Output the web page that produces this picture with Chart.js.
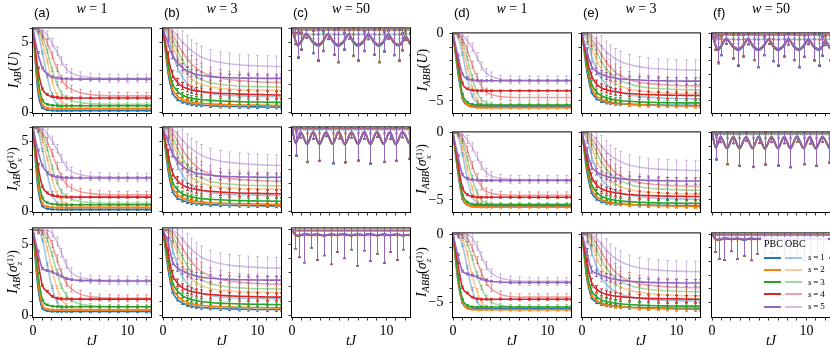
<!DOCTYPE html>
<html>
<head>
<meta charset="utf-8">
<script src="https://cdn.jsdelivr.net/npm/chart.js@4.4.1/dist/chart.umd.min.js"></script>
<style>
  body { margin: 0; width: 830px; height: 349px; overflow: hidden; background: #fff; position: relative; font-family: 'Liberation Serif', serif; }
  canvas { position: absolute; }
  .txt { position: absolute; white-space: nowrap; color: #000; line-height: 1; }
  .tag { font-family: 'Liberation Sans', sans-serif; font-size: 13px; }
  .ttl { font-size: 14px; transform: translateX(-50%); }
  .ylab { font-size: 14px; transform: translate(-50%, -50%) rotate(-90deg); }
  .ylab sub { font-size: 10px; vertical-align: -3px; }
  .ss { display: inline-block; font-size: 9px; line-height: 9px; vertical-align: -5px; }
  .ss span { display: block; }
  .xlab { font-size: 14px; transform: translate(-50%, -50%); }
  .lgt { font-size: 10px; }
  .lgs { font-size: 9px; letter-spacing: -0.2px; }
  #legend { position: absolute; left: 761px; top: 237px; width: 67px; height: 78px; background: rgba(255,255,255,0.88); }
  .lg { position: absolute; height: 2px; }
</style>
</head>
<body>
<script>
// --- DADOS ---
const tDecay = [0, 0.5, 1, 1.5, 2, 2.5, 3, 3.5, 4, 5, 6, 7, 8, 9, 10, 11, 12, 12.5];
const tW1 = [0, 0.3, 0.6, 1.0, 1.5, 2.2, 2.8, 3.3, 3.8, 4.4, 4.9, 5.5, 6.0, 6.5, 7.0, 7.6, 8.1, 8.7, 9.2, 9.7, 10.2, 10.8, 11.3, 11.7, 12.0, 12.5];
const tW2 = [0, 0.4, 0.9, 1.6, 2.25, 2.9, 3.6, 4.3, 4.95, 5.6, 6.3, 7.0, 7.65, 8.3, 9.0, 9.7, 10.35, 11.0, 11.7, 12.4];
const tW3 = [0, 0.3, 0.7, 1.3, 2.0, 2.7, 3.4, 4.1, 4.8, 5.5, 6.2, 6.9, 7.6, 8.3, 9.0, 9.7, 10.4, 11.1, 11.8, 12.5];

const xTicks = [0, 1, 2, 3, 4, 5, 6, 7, 8, 9, 10, 11, 12];
const xLabels = [0, 10];
const yTicksLeft = [0, 1, 2, 3, 4, 5, 6];
const yTicksRight = [-5, -4, -3, -2, -1, 0];
const yLabels = [0, 5, -5];
const seriesNames = ['s = 1', 's = 2', 's = 3', 's = 4', 's = 5'];
const panelTags = ['(a)', '(b)', '(c)', '(d)', '(e)', '(f)'];
const wValues = ['1', '3', '50', '1', '3', '50'];

// w = 1, esquerda
const pbc_aU = [
  [6.0,1.6,0.35,0.2,0.16,0.15,0.15,0.15,0.15,0.15,0.15,0.15,0.15,0.15,0.15,0.15,0.15,0.15],
  [6.0,2.0,0.55,0.35,0.3,0.29,0.28,0.28,0.28,0.28,0.28,0.28,0.28,0.28,0.28,0.28,0.28,0.28],
  [6.0,2.5,0.9,0.6,0.53,0.51,0.5,0.5,0.5,0.5,0.5,0.5,0.5,0.5,0.5,0.5,0.5,0.5],
  [6.0,3.2,1.7,1.3,1.15,1.09,1.06,1.05,1.05,1.05,1.05,1.05,1.05,1.05,1.05,1.05,1.05,1.05],
  [6.0,4.3,3.2,2.75,2.56,2.48,2.44,2.42,2.41,2.4,2.4,2.4,2.4,2.4,2.4,2.4,2.4,2.4]
];
const obc_aU = [
  [6.0,5.7,4.3,2.6,1.3,0.6,0.35,0.26,0.22,0.2,0.19,0.19,0.19,0.19,0.19,0.19,0.19,0.19],
  [6.0,5.9,5.0,3.7,2.3,1.3,0.8,0.55,0.45,0.38,0.36,0.35,0.35,0.35,0.35,0.35,0.35,0.35],
  [6.0,5.95,5.4,4.4,3.1,2.1,1.4,1.1,0.9,0.72,0.65,0.62,0.61,0.6,0.6,0.6,0.6,0.6],
  [6.0,6.0,5.6,5.0,4.1,3.2,2.4,1.95,1.7,1.42,1.3,1.24,1.21,1.2,1.2,1.2,1.2,1.2],
  [6.0,6.0,5.85,5.55,5.0,4.4,3.7,3.15,2.85,2.62,2.52,2.48,2.46,2.45,2.45,2.45,2.45,2.45]
];
const pbc_aX = [
  [6.0,1.8,0.4,0.22,0.17,0.16,0.15,0.15,0.15,0.15,0.15,0.15,0.15,0.15,0.15,0.15,0.15,0.15],
  [6.0,2.2,0.6,0.38,0.32,0.3,0.3,0.3,0.3,0.3,0.3,0.3,0.3,0.3,0.3,0.3,0.3,0.3],
  [6.0,2.7,1.0,0.65,0.55,0.52,0.51,0.5,0.5,0.5,0.5,0.5,0.5,0.5,0.5,0.5,0.5,0.5],
  [6.0,3.4,1.8,1.35,1.17,1.1,1.06,1.05,1.05,1.04,1.04,1.04,1.04,1.04,1.04,1.04,1.04,1.04],
  [6.0,4.4,3.3,2.8,2.58,2.49,2.45,2.43,2.42,2.41,2.41,2.41,2.41,2.41,2.41,2.41,2.41,2.41]
];
const obc_aX = [
  [6.0,5.75,4.4,2.7,1.35,0.62,0.36,0.27,0.22,0.2,0.19,0.19,0.19,0.19,0.19,0.19,0.19,0.19],
  [6.0,5.9,5.05,3.8,2.4,1.35,0.82,0.56,0.46,0.39,0.36,0.35,0.35,0.35,0.35,0.35,0.35,0.35],
  [6.0,5.95,5.45,4.5,3.2,2.15,1.45,1.12,0.92,0.73,0.66,0.62,0.61,0.6,0.6,0.6,0.6,0.6],
  [6.0,6.0,5.65,5.05,4.2,3.3,2.5,2.0,1.72,1.43,1.31,1.25,1.22,1.21,1.2,1.2,1.2,1.2],
  [6.0,6.0,5.9,5.6,5.1,4.5,3.8,3.25,2.9,2.64,2.53,2.49,2.47,2.46,2.45,2.45,2.45,2.45]
];
const pbc_aZ = [
  [6.0,2.1,0.5,0.32,0.29,0.28,0.28,0.28,0.28,0.28,0.28,0.28,0.28,0.28,0.28,0.28,0.28,0.28],
  [6.0,2.5,0.7,0.45,0.41,0.4,0.4,0.4,0.4,0.4,0.4,0.4,0.4,0.4,0.4,0.4,0.4,0.4],
  [6.0,3.0,1.1,0.75,0.66,0.63,0.62,0.62,0.62,0.62,0.62,0.62,0.62,0.62,0.62,0.62,0.62,0.62],
  [6.0,3.9,2.1,1.7,1.35,1.22,1.17,1.16,1.15,1.15,1.15,1.15,1.15,1.15,1.15,1.15,1.15,1.15],
  [6.0,4.5,3.3,3.15,3.05,2.9,2.75,2.6,2.52,2.46,2.44,2.43,2.42,2.42,2.42,2.42,2.42,2.42]
];
const obc_aZ = [
  [6.0,5.9,5.3,3.6,2.0,1.0,0.55,0.38,0.32,0.29,0.28,0.28,0.28,0.28,0.28,0.28,0.28,0.28],
  [6.0,6.0,5.7,4.7,3.3,2.0,1.15,0.75,0.56,0.45,0.42,0.41,0.4,0.4,0.4,0.4,0.4,0.4],
  [6.0,6.0,5.85,5.3,4.3,3.1,2.05,1.45,1.1,0.8,0.7,0.65,0.63,0.62,0.62,0.62,0.62,0.62],
  [6.0,6.0,5.95,5.7,5.0,4.0,3.0,2.3,1.9,1.5,1.33,1.26,1.22,1.2,1.2,1.2,1.2,1.2],
  [6.0,6.0,6.0,5.95,5.8,5.2,4.4,3.6,3.05,2.68,2.54,2.49,2.47,2.46,2.45,2.45,2.45,2.45]
];

// w = 3, esquerda
const pbc_bU = [
  [6.0,3.0,1.45,0.98,0.8,0.7,0.63,0.58,0.55,0.5,0.47,0.45,0.44,0.43,0.42,0.41,0.4,0.4],
  [6.0,3.3,1.75,1.2,0.98,0.86,0.78,0.72,0.68,0.63,0.6,0.58,0.56,0.55,0.54,0.53,0.52,0.52],
  [6.0,3.6,2.1,1.55,1.28,1.13,1.04,0.98,0.94,0.88,0.84,0.81,0.79,0.77,0.76,0.75,0.74,0.74],
  [6.0,4.1,2.75,2.2,1.9,1.74,1.63,1.56,1.51,1.44,1.39,1.36,1.33,1.31,1.3,1.28,1.27,1.27],
  [6.0,5.0,4.1,3.6,3.25,3.0,2.85,2.75,2.68,2.58,2.53,2.5,2.48,2.47,2.46,2.45,2.45,2.45]
];
const obc_bU = [
  [6.0,5.6,4.3,3.3,2.6,2.15,1.85,1.65,1.52,1.37,1.28,1.23,1.2,1.18,1.17,1.16,1.15,1.15],
  [6.0,5.8,4.9,4.0,3.3,2.8,2.45,2.2,2.05,1.85,1.75,1.69,1.65,1.63,1.62,1.61,1.6,1.6],
  [6.0,5.9,5.3,4.5,3.8,3.25,2.85,2.58,2.38,2.15,2.03,1.96,1.91,1.88,1.86,1.85,1.84,1.83],
  [6.0,6.0,5.6,5.0,4.4,3.9,3.5,3.2,2.95,2.65,2.48,2.37,2.3,2.25,2.21,2.18,2.16,2.15],
  [6.0,6.0,5.85,5.5,5.1,4.75,4.45,4.2,4.0,3.75,3.6,3.5,3.43,3.38,3.35,3.32,3.3,3.3]
];
const pbc_bX = [
  [6.0,3.1,1.5,1.0,0.82,0.71,0.64,0.59,0.56,0.51,0.48,0.46,0.45,0.44,0.43,0.42,0.41,0.41],
  [6.0,3.4,1.8,1.25,1.0,0.88,0.8,0.74,0.7,0.64,0.61,0.59,0.57,0.56,0.55,0.54,0.53,0.53],
  [6.0,3.7,2.15,1.6,1.3,1.15,1.06,1.0,0.95,0.89,0.85,0.82,0.8,0.78,0.77,0.76,0.75,0.75],
  [6.0,4.2,2.8,2.25,1.94,1.77,1.66,1.58,1.53,1.46,1.41,1.37,1.34,1.32,1.31,1.29,1.28,1.28],
  [6.0,5.05,4.15,3.65,3.3,3.05,2.88,2.77,2.7,2.6,2.54,2.51,2.49,2.48,2.47,2.46,2.46,2.46]
];
const obc_bX = [
  [6.0,5.65,4.4,3.4,2.7,2.2,1.9,1.68,1.54,1.38,1.29,1.24,1.21,1.19,1.18,1.17,1.16,1.16],
  [6.0,5.85,5.0,4.1,3.4,2.9,2.5,2.25,2.08,1.87,1.76,1.7,1.66,1.64,1.63,1.62,1.61,1.61],
  [6.0,5.92,5.35,4.6,3.9,3.35,2.92,2.62,2.42,2.18,2.05,1.97,1.92,1.89,1.87,1.86,1.85,1.84],
  [6.0,6.0,5.65,5.1,4.5,4.0,3.58,3.25,3.0,2.68,2.5,2.38,2.31,2.26,2.22,2.19,2.17,2.16],
  [6.0,6.0,5.88,5.55,5.15,4.8,4.5,4.25,4.05,3.78,3.62,3.52,3.45,3.4,3.36,3.33,3.31,3.3]
];
const pbc_bZ = [
  [6.0,3.4,1.7,1.15,0.9,0.76,0.67,0.61,0.57,0.52,0.49,0.47,0.45,0.44,0.43,0.42,0.42,0.42],
  [6.0,3.7,2.0,1.4,1.1,0.94,0.84,0.77,0.72,0.66,0.62,0.6,0.58,0.57,0.56,0.55,0.54,0.54],
  [6.0,4.0,2.35,1.75,1.42,1.24,1.12,1.04,0.99,0.92,0.87,0.84,0.82,0.8,0.79,0.78,0.77,0.77],
  [6.0,4.5,2.9,2.3,1.98,1.8,1.69,1.61,1.55,1.47,1.42,1.38,1.35,1.33,1.32,1.3,1.29,1.29],
  [6.0,5.2,3.8,3.35,3.15,2.98,2.86,2.77,2.7,2.61,2.56,2.53,2.51,2.5,2.49,2.48,2.48,2.48]
];
const obc_bZ = [
  [6.0,5.8,4.7,3.6,2.8,2.3,1.95,1.72,1.57,1.4,1.3,1.25,1.22,1.2,1.19,1.18,1.17,1.17],
  [6.0,5.95,5.3,4.4,3.6,3.0,2.6,2.32,2.13,1.9,1.78,1.71,1.67,1.65,1.64,1.63,1.62,1.62],
  [6.0,6.0,5.6,4.9,4.15,3.55,3.08,2.75,2.52,2.24,2.09,2.0,1.94,1.9,1.88,1.87,1.86,1.85],
  [6.0,6.0,5.85,5.4,4.8,4.25,3.78,3.4,3.12,2.76,2.55,2.42,2.34,2.28,2.24,2.21,2.19,2.18],
  [6.0,6.0,5.95,5.75,5.4,5.0,4.65,4.35,4.12,3.82,3.64,3.53,3.46,3.41,3.37,3.34,3.32,3.31]
];

// w = 50, esquerda
const pbc_cU = [
  [6.0,5.25,4.78,5.05,5.6,5.0,4.76,5.05,5.56,4.98,4.75,5.05,5.55,5.0,4.76,5.05,5.55,4.98,4.75,5.02,5.52,4.96,4.76,5.0,5.45,4.86],
  [6.0,5.28,4.84,5.1,5.62,5.05,4.82,5.1,5.59,5.03,4.81,5.1,5.57,5.05,4.82,5.1,5.57,5.03,4.81,5.07,5.55,5.01,4.82,5.05,5.47,4.9],
  [6.0,5.29,4.86,5.12,5.63,5.07,4.84,5.12,5.6,5.05,4.83,5.12,5.58,5.07,4.84,5.12,5.58,5.05,4.83,5.09,5.56,5.03,4.84,5.07,5.48,4.92],
  [6.0,5.3,4.88,5.14,5.64,5.09,4.86,5.14,5.61,5.07,4.85,5.14,5.59,5.09,4.86,5.14,5.59,5.07,4.85,5.11,5.57,5.05,4.86,5.09,5.49,4.94],
  [6.0,5.3,4.9,5.15,5.65,5.1,4.88,5.15,5.62,5.08,4.86,5.15,5.6,5.1,4.87,5.15,5.6,5.08,4.86,5.12,5.58,5.06,4.87,5.1,5.5,4.95]
];
const obc_cU = [
  [6.0,5.8,5.65,5.6,5.62,5.6,5.58,5.6,5.62,5.6,5.58,5.6,5.62,5.6,5.58,5.6,5.62,5.6,5.58,5.6,5.62,5.6,5.58,5.6,5.62,5.6],
  [6.0,5.98,5.96,5.95,5.96,5.95,5.95,5.95,5.96,5.95,5.95,5.95,5.96,5.95,5.95,5.95,5.96,5.95,5.95,5.95,5.96,5.95,5.95,5.95,5.96,5.95],
  [6.0,5.95,5.9,5.88,5.9,5.88,5.87,5.88,5.9,5.88,5.87,5.88,5.9,5.88,5.87,5.88,5.9,5.88,5.87,5.88,5.9,5.88,5.87,5.88,5.9,5.88],
  [6.0,5.96,5.92,5.9,5.92,5.9,5.89,5.9,5.92,5.9,5.89,5.9,5.92,5.9,5.89,5.9,5.92,5.9,5.89,5.9,5.92,5.9,5.89,5.9,5.92,5.9],
  [6.0,5.98,5.97,5.97,5.98,5.97,5.97,5.97,5.98,5.97,5.97,5.97,5.98,5.97,5.97,5.97,5.98,5.97,5.97,5.97,5.98,5.97,5.97,5.97,5.98,5.97]
];
const errW_cU = [0,0.4,0.9,0.6,0.3,0.8,1.1,0.7,0.35,0.9,1.2,0.6,0.3,1.0,1.1,0.7,0.35,0.9,1.2,0.7,0.3,0.9,1.1,0.6,0.3,0.8];
const pbc_cX = [
  [6.0,4.85,5.65,4.8,5.67,4.78,5.65,4.8,5.69,4.77,5.65,4.8,5.67,4.78,5.69,4.8,5.65,4.78,5.67,4.82],
  [6.0,4.9,5.67,4.85,5.69,4.83,5.67,4.85,5.71,4.82,5.67,4.85,5.69,4.83,5.71,4.85,5.67,4.83,5.69,4.87],
  [6.0,4.91,5.68,4.86,5.7,4.84,5.68,4.86,5.72,4.83,5.68,4.86,5.7,4.84,5.72,4.86,5.68,4.84,5.7,4.88],
  [6.0,4.93,5.69,4.88,5.71,4.86,5.69,4.88,5.73,4.85,5.69,4.88,5.71,4.86,5.73,4.88,5.69,4.86,5.71,4.9],
  [6.0,4.95,5.7,4.9,5.72,4.88,5.7,4.9,5.74,4.87,5.7,4.9,5.72,4.88,5.74,4.9,5.7,4.88,5.72,4.92]
];
const obc_cX = [
  [6.0,5.85,5.88,5.84,5.88,5.84,5.88,5.84,5.88,5.84,5.88,5.84,5.88,5.84,5.88,5.84,5.88,5.84,5.88,5.84],
  [6.0,5.95,5.96,5.95,5.96,5.95,5.96,5.95,5.96,5.95,5.96,5.95,5.96,5.95,5.96,5.95,5.96,5.95,5.96,5.95],
  [6.0,5.92,5.93,5.92,5.93,5.92,5.93,5.92,5.93,5.92,5.93,5.92,5.93,5.92,5.93,5.92,5.93,5.92,5.93,5.92],
  [6.0,5.93,5.94,5.93,5.94,5.93,5.94,5.93,5.94,5.93,5.94,5.93,5.94,5.93,5.94,5.93,5.94,5.93,5.94,5.93],
  [6.0,5.96,5.97,5.96,5.97,5.96,5.97,5.96,5.97,5.96,5.97,5.96,5.97,5.96,5.97,5.96,5.97,5.96,5.97,5.96]
];
const errW_cX = [0,0.9,0.4,1.3,0.5,1.2,0.3,1.4,0.5,1.3,0.4,1.2,0.5,1.4,0.4,1.3,0.5,1.2,0.4,1.1];
const pbc_cZ = [
  [6.0,5.66,5.55,5.68,5.62,5.66,5.58,5.66,5.62,5.68,5.59,5.66,5.62,5.68,5.6,5.66,5.61,5.66,5.59,5.64],
  [6.0,5.68,5.58,5.69,5.64,5.68,5.6,5.68,5.63,5.69,5.61,5.68,5.64,5.69,5.62,5.68,5.63,5.68,5.61,5.66],
  [6.0,5.68,5.58,5.7,5.64,5.68,5.6,5.68,5.64,5.7,5.61,5.68,5.64,5.7,5.62,5.68,5.63,5.68,5.61,5.66],
  [6.0,5.69,5.59,5.71,5.65,5.69,5.61,5.69,5.65,5.71,5.62,5.69,5.65,5.71,5.63,5.69,5.64,5.69,5.62,5.67],
  [6.0,5.7,5.6,5.72,5.66,5.7,5.62,5.7,5.66,5.72,5.63,5.7,5.66,5.72,5.64,5.7,5.65,5.7,5.63,5.68]
];
const obc_cZ = [
  [6.0,5.93,5.9,5.91,5.9,5.91,5.9,5.91,5.9,5.91,5.9,5.91,5.9,5.91,5.9,5.91,5.9,5.91,5.9,5.91],
  [6.0,5.97,5.97,5.97,5.97,5.97,5.97,5.97,5.97,5.97,5.97,5.97,5.97,5.97,5.97,5.97,5.97,5.97,5.97,5.97],
  [6.0,5.95,5.95,5.95,5.95,5.95,5.95,5.95,5.95,5.95,5.95,5.95,5.95,5.95,5.95,5.95,5.95,5.95,5.95,5.95],
  [6.0,5.96,5.95,5.96,5.95,5.96,5.95,5.96,5.95,5.96,5.95,5.96,5.95,5.96,5.95,5.96,5.95,5.96,5.95,5.96],
  [6.0,5.98,5.98,5.98,5.98,5.98,5.98,5.98,5.98,5.98,5.98,5.98,5.98,5.98,5.98,5.98,5.98,5.98,5.98,5.98]
];
const errW_cZ = [0,1.0,1.5,2.0,0.9,1.8,1.4,2.1,1.2,1.7,1.0,2.2,1.1,1.9,1.3,2.0,1.2,1.8,1.0,1.6];

// w = 1, direita
const pbc_dU = [
  [0,-2.8,-4.8,-5.3,-5.38,-5.4,-5.4,-5.4,-5.4,-5.4,-5.4,-5.4,-5.4,-5.4,-5.4,-5.4,-5.4,-5.4],
  [0,-2.6,-4.7,-5.3,-5.45,-5.49,-5.5,-5.5,-5.5,-5.5,-5.5,-5.5,-5.5,-5.5,-5.5,-5.5,-5.5,-5.5],
  [0,-2.4,-4.5,-5.1,-5.25,-5.29,-5.3,-5.3,-5.3,-5.3,-5.3,-5.3,-5.3,-5.3,-5.3,-5.3,-5.3,-5.3],
  [0,-2.0,-3.7,-4.1,-4.2,-4.24,-4.25,-4.25,-4.25,-4.25,-4.25,-4.25,-4.25,-4.25,-4.25,-4.25,-4.25,-4.25],
  [0,-1.6,-3.0,-3.35,-3.45,-3.48,-3.5,-3.5,-3.5,-3.5,-3.5,-3.5,-3.5,-3.5,-3.5,-3.5,-3.5,-3.5]
];
const obc_dU = [
  [0,-0.2,-1.5,-3.3,-4.6,-5.1,-5.3,-5.37,-5.4,-5.4,-5.4,-5.4,-5.4,-5.4,-5.4,-5.4,-5.4,-5.4],
  [0,-0.1,-1.0,-2.5,-4.0,-4.9,-5.3,-5.44,-5.48,-5.5,-5.5,-5.5,-5.5,-5.5,-5.5,-5.5,-5.5,-5.5],
  [0,-0.05,-0.6,-1.8,-3.2,-4.3,-4.9,-5.15,-5.25,-5.29,-5.3,-5.3,-5.3,-5.3,-5.3,-5.3,-5.3,-5.3],
  [0,0,-0.4,-1.2,-2.3,-3.2,-3.9,-4.3,-4.5,-4.68,-4.73,-4.75,-4.75,-4.75,-4.75,-4.75,-4.75,-4.75],
  [0,0,-0.15,-0.5,-1.0,-1.7,-2.4,-2.9,-3.15,-3.37,-3.43,-3.45,-3.45,-3.45,-3.45,-3.45,-3.45,-3.45]
];
const pbc_dX = [
  [0,-2.9,-4.9,-5.35,-5.42,-5.44,-5.45,-5.45,-5.45,-5.45,-5.45,-5.45,-5.45,-5.45,-5.45,-5.45,-5.45,-5.45],
  [0,-2.7,-4.8,-5.35,-5.5,-5.54,-5.55,-5.55,-5.55,-5.55,-5.55,-5.55,-5.55,-5.55,-5.55,-5.55,-5.55,-5.55],
  [0,-2.5,-4.6,-5.15,-5.3,-5.34,-5.35,-5.35,-5.35,-5.35,-5.35,-5.35,-5.35,-5.35,-5.35,-5.35,-5.35,-5.35],
  [0,-2.2,-4.1,-4.6,-4.75,-4.79,-4.8,-4.8,-4.8,-4.8,-4.8,-4.8,-4.8,-4.8,-4.8,-4.8,-4.8,-4.8],
  [0,-1.7,-3.1,-3.42,-3.5,-3.53,-3.55,-3.55,-3.55,-3.55,-3.55,-3.55,-3.55,-3.55,-3.55,-3.55,-3.55,-3.55]
];
const obc_dX = [
  [0,-0.2,-1.6,-3.4,-4.7,-5.2,-5.37,-5.42,-5.45,-5.45,-5.45,-5.45,-5.45,-5.45,-5.45,-5.45,-5.45,-5.45],
  [0,-0.1,-1.1,-2.6,-4.1,-5.0,-5.35,-5.48,-5.53,-5.55,-5.55,-5.55,-5.55,-5.55,-5.55,-5.55,-5.55,-5.55],
  [0,-0.05,-0.65,-1.9,-3.3,-4.4,-5.0,-5.22,-5.3,-5.34,-5.35,-5.35,-5.35,-5.35,-5.35,-5.35,-5.35,-5.35],
  [0,0,-0.4,-1.25,-2.4,-3.3,-4.0,-4.35,-4.5,-4.62,-4.65,-4.65,-4.65,-4.65,-4.65,-4.65,-4.65,-4.65],
  [0,0,-0.15,-0.5,-1.05,-1.75,-2.45,-2.95,-3.2,-3.4,-3.46,-3.48,-3.48,-3.48,-3.48,-3.48,-3.48,-3.48]
];
const pbc_dZ = [
  [0,-3.3,-5.0,-5.38,-5.44,-5.45,-5.45,-5.45,-5.45,-5.45,-5.45,-5.45,-5.45,-5.45,-5.45,-5.45,-5.45,-5.45],
  [0,-3.1,-4.95,-5.42,-5.5,-5.52,-5.52,-5.52,-5.52,-5.52,-5.52,-5.52,-5.52,-5.52,-5.52,-5.52,-5.52,-5.52],
  [0,-2.9,-4.75,-5.2,-5.3,-5.32,-5.32,-5.32,-5.32,-5.32,-5.32,-5.32,-5.32,-5.32,-5.32,-5.32,-5.32,-5.32],
  [0,-2.1,-3.9,-4.3,-4.6,-4.72,-4.75,-4.75,-4.75,-4.75,-4.75,-4.75,-4.75,-4.75,-4.75,-4.75,-4.75,-4.75],
  [0,-1.5,-2.7,-2.9,-3.0,-3.12,-3.27,-3.38,-3.44,-3.5,-3.52,-3.53,-3.53,-3.53,-3.53,-3.53,-3.53,-3.53]
];
const obc_dZ = [
  [0,-0.1,-0.8,-2.4,-4.0,-4.9,-5.3,-5.42,-5.45,-5.45,-5.45,-5.45,-5.45,-5.45,-5.45,-5.45,-5.45,-5.45],
  [0,0,-0.35,-1.4,-2.9,-4.1,-4.9,-5.3,-5.45,-5.5,-5.52,-5.52,-5.52,-5.52,-5.52,-5.52,-5.52,-5.52],
  [0,0,-0.15,-0.7,-1.7,-2.9,-3.9,-4.6,-4.95,-5.2,-5.28,-5.3,-5.3,-5.3,-5.3,-5.3,-5.3,-5.3],
  [0,0,-0.05,-0.3,-1.0,-1.9,-2.8,-3.5,-3.95,-4.4,-4.55,-4.6,-4.6,-4.6,-4.6,-4.6,-4.6,-4.6],
  [0,0,0,-0.05,-0.25,-0.85,-1.6,-2.3,-2.8,-3.2,-3.35,-3.42,-3.45,-3.45,-3.45,-3.45,-3.45,-3.45]
];

// w = 3, direita
const pbc_eU = [
  [0,-2.7,-4.3,-4.8,-5.0,-5.1,-5.15,-5.2,-5.22,-5.26,-5.28,-5.3,-5.31,-5.32,-5.33,-5.33,-5.34,-5.34],
  [0,-2.4,-4.0,-4.6,-4.85,-5.0,-5.08,-5.14,-5.18,-5.24,-5.28,-5.31,-5.33,-5.35,-5.36,-5.37,-5.38,-5.38],
  [0,-2.2,-3.7,-4.3,-4.6,-4.75,-4.85,-4.92,-4.97,-5.03,-5.07,-5.1,-5.12,-5.13,-5.14,-5.15,-5.15,-5.15],
  [0,-1.8,-3.1,-3.7,-4.0,-4.15,-4.25,-4.32,-4.37,-4.45,-4.5,-4.53,-4.55,-4.57,-4.58,-4.59,-4.6,-4.6],
  [0,-1.3,-2.4,-2.8,-3.0,-3.15,-3.24,-3.3,-3.35,-3.41,-3.45,-3.48,-3.5,-3.51,-3.52,-3.53,-3.53,-3.53]
];
const obc_eU = [
  [0,-0.4,-1.6,-2.6,-3.3,-3.7,-4.0,-4.2,-4.35,-4.55,-4.65,-4.72,-4.77,-4.8,-4.82,-4.84,-4.85,-4.85],
  [0,-0.2,-1.0,-1.9,-2.6,-3.1,-3.45,-3.7,-3.88,-4.12,-4.25,-4.33,-4.38,-4.42,-4.44,-4.46,-4.47,-4.47],
  [0,-0.1,-0.6,-1.3,-2.0,-2.55,-2.95,-3.25,-3.45,-3.75,-3.92,-4.02,-4.08,-4.12,-4.15,-4.17,-4.18,-4.18],
  [0,0,-0.35,-0.9,-1.5,-2.05,-2.5,-2.85,-3.1,-3.42,-3.6,-3.7,-3.77,-3.82,-3.85,-3.87,-3.88,-3.88],
  [0,0,-0.15,-0.5,-0.9,-1.3,-1.6,-1.85,-2.05,-2.3,-2.45,-2.55,-2.61,-2.65,-2.68,-2.7,-2.71,-2.72]
];
const pbc_eX = [
  [0,-2.8,-4.4,-4.9,-5.1,-5.2,-5.25,-5.29,-5.31,-5.35,-5.37,-5.39,-5.4,-5.41,-5.42,-5.42,-5.43,-5.43],
  [0,-2.5,-4.1,-4.7,-4.95,-5.1,-5.18,-5.24,-5.28,-5.34,-5.38,-5.41,-5.43,-5.45,-5.46,-5.47,-5.48,-5.48],
  [0,-2.3,-3.8,-4.4,-4.7,-4.85,-4.95,-5.02,-5.07,-5.13,-5.17,-5.2,-5.22,-5.23,-5.24,-5.25,-5.25,-5.25],
  [0,-1.9,-3.25,-3.85,-4.15,-4.3,-4.4,-4.47,-4.52,-4.6,-4.65,-4.68,-4.7,-4.72,-4.73,-4.74,-4.75,-4.75],
  [0,-1.35,-2.5,-2.9,-3.1,-3.24,-3.32,-3.38,-3.42,-3.48,-3.52,-3.55,-3.57,-3.58,-3.59,-3.6,-3.6,-3.6]
];
const obc_eX = [
  [0,-0.4,-1.7,-2.7,-3.4,-3.8,-4.1,-4.3,-4.45,-4.65,-4.75,-4.82,-4.87,-4.9,-4.92,-4.94,-4.95,-4.95],
  [0,-0.2,-1.05,-2.0,-2.7,-3.2,-3.55,-3.8,-3.98,-4.22,-4.35,-4.43,-4.48,-4.52,-4.54,-4.56,-4.57,-4.57],
  [0,-0.1,-0.65,-1.4,-2.1,-2.65,-3.05,-3.35,-3.55,-3.85,-4.02,-4.12,-4.18,-4.22,-4.25,-4.27,-4.28,-4.28],
  [0,0,-0.38,-0.95,-1.6,-2.15,-2.6,-2.95,-3.2,-3.52,-3.7,-3.8,-3.87,-3.92,-3.95,-3.97,-3.98,-3.98],
  [0,0,-0.15,-0.52,-0.95,-1.35,-1.68,-1.93,-2.13,-2.4,-2.55,-2.65,-2.71,-2.75,-2.78,-2.8,-2.81,-2.82]
];
const pbc_eZ = [
  [0,-3.2,-4.6,-4.95,-5.1,-5.18,-5.23,-5.27,-5.3,-5.34,-5.36,-5.38,-5.39,-5.4,-5.41,-5.41,-5.42,-5.42],
  [0,-3.0,-4.4,-4.8,-5.0,-5.12,-5.2,-5.25,-5.29,-5.35,-5.39,-5.42,-5.44,-5.46,-5.47,-5.48,-5.49,-5.49],
  [0,-2.7,-4.1,-4.55,-4.78,-4.9,-4.98,-5.04,-5.08,-5.14,-5.18,-5.21,-5.23,-5.24,-5.25,-5.26,-5.26,-5.26],
  [0,-2.0,-3.5,-4.0,-4.25,-4.38,-4.46,-4.52,-4.56,-4.62,-4.66,-4.69,-4.71,-4.72,-4.73,-4.74,-4.75,-4.75],
  [0,-1.3,-2.6,-2.85,-3.0,-3.12,-3.22,-3.3,-3.36,-3.44,-3.49,-3.52,-3.54,-3.55,-3.56,-3.57,-3.57,-3.57]
];
const obc_eZ = [
  [0,-0.2,-1.2,-2.3,-3.1,-3.6,-3.95,-4.18,-4.35,-4.57,-4.68,-4.75,-4.8,-4.83,-4.85,-4.87,-4.88,-4.88],
  [0,-0.08,-0.7,-1.6,-2.4,-2.95,-3.35,-3.63,-3.83,-4.1,-4.25,-4.34,-4.4,-4.44,-4.47,-4.49,-4.5,-4.5],
  [0,-0.03,-0.4,-1.05,-1.8,-2.4,-2.85,-3.18,-3.42,-3.74,-3.92,-4.03,-4.1,-4.14,-4.17,-4.19,-4.2,-4.2],
  [0,0,-0.2,-0.65,-1.25,-1.85,-2.35,-2.75,-3.03,-3.4,-3.6,-3.72,-3.8,-3.85,-3.88,-3.9,-3.91,-3.91],
  [0,0,-0.05,-0.3,-0.7,-1.1,-1.47,-1.76,-1.98,-2.27,-2.45,-2.56,-2.63,-2.67,-2.7,-2.72,-2.73,-2.74]
];

// w = 50, direita
const pbc_fU = [
  [0,-0.75,-1.25,-0.95,-0.4,-1.0,-1.24,-0.95,-0.44,-1.02,-1.25,-0.95,-0.45,-1.0,-1.24,-0.95,-0.45,-1.02,-1.25,-0.98,-0.48,-1.04,-1.24,-1.0,-0.55,-1.14],
  [0,-0.72,-1.18,-0.9,-0.38,-0.95,-1.18,-0.9,-0.41,-0.97,-1.19,-0.9,-0.43,-0.95,-1.18,-0.9,-0.43,-0.97,-1.19,-0.93,-0.45,-0.99,-1.18,-0.95,-0.53,-1.1],
  [0,-0.71,-1.15,-0.88,-0.37,-0.93,-1.16,-0.88,-0.4,-0.95,-1.17,-0.88,-0.42,-0.93,-1.16,-0.88,-0.42,-0.95,-1.17,-0.91,-0.44,-0.97,-1.16,-0.93,-0.52,-1.08],
  [0,-0.7,-1.13,-0.86,-0.36,-0.91,-1.14,-0.86,-0.39,-0.93,-1.15,-0.86,-0.41,-0.91,-1.14,-0.86,-0.41,-0.93,-1.15,-0.89,-0.43,-0.95,-1.14,-0.91,-0.51,-1.06],
  [0,-0.7,-1.1,-0.85,-0.35,-0.9,-1.12,-0.85,-0.38,-0.92,-1.14,-0.85,-0.4,-0.9,-1.13,-0.85,-0.4,-0.92,-1.14,-0.88,-0.42,-0.94,-1.13,-0.9,-0.5,-1.05]
];
const obc_fU = [
  [0,-0.25,-0.4,-0.42,-0.4,-0.42,-0.44,-0.42,-0.4,-0.42,-0.44,-0.42,-0.4,-0.42,-0.44,-0.42,-0.4,-0.42,-0.44,-0.42,-0.4,-0.42,-0.44,-0.42,-0.4,-0.42],
  [0,-0.02,-0.04,-0.05,-0.04,-0.05,-0.05,-0.05,-0.04,-0.05,-0.05,-0.05,-0.04,-0.05,-0.05,-0.05,-0.04,-0.05,-0.05,-0.05,-0.04,-0.05,-0.05,-0.05,-0.04,-0.05],
  [0,-0.05,-0.1,-0.12,-0.1,-0.12,-0.13,-0.12,-0.1,-0.12,-0.13,-0.12,-0.1,-0.12,-0.13,-0.12,-0.1,-0.12,-0.13,-0.12,-0.1,-0.12,-0.13,-0.12,-0.1,-0.12],
  [0,-0.04,-0.08,-0.1,-0.08,-0.1,-0.11,-0.1,-0.08,-0.1,-0.11,-0.1,-0.08,-0.1,-0.11,-0.1,-0.08,-0.1,-0.11,-0.1,-0.08,-0.1,-0.11,-0.1,-0.08,-0.1],
  [0,-0.02,-0.03,-0.03,-0.02,-0.03,-0.03,-0.03,-0.02,-0.03,-0.03,-0.03,-0.02,-0.03,-0.03,-0.03,-0.02,-0.03,-0.03,-0.03,-0.02,-0.03,-0.03,-0.03,-0.02,-0.03]
];
const errW_fU = [0,0.5,1.0,0.7,0.4,0.9,1.2,0.8,0.4,1.0,1.3,0.7,0.35,1.1,1.2,0.8,0.4,1.0,1.3,0.8,0.35,1.0,1.2,0.7,0.35,0.9];
const pbc_fX = [
  [0,-1.15,-0.35,-1.2,-0.33,-1.22,-0.35,-1.2,-0.31,-1.23,-0.35,-1.2,-0.33,-1.22,-0.31,-1.2,-0.35,-1.22,-0.33,-1.18],
  [0,-1.1,-0.33,-1.15,-0.31,-1.17,-0.33,-1.15,-0.29,-1.18,-0.33,-1.15,-0.31,-1.17,-0.29,-1.15,-0.33,-1.17,-0.31,-1.13],
  [0,-1.09,-0.32,-1.14,-0.3,-1.16,-0.32,-1.14,-0.28,-1.17,-0.32,-1.14,-0.3,-1.16,-0.28,-1.14,-0.32,-1.16,-0.3,-1.12],
  [0,-1.07,-0.31,-1.12,-0.29,-1.14,-0.31,-1.12,-0.27,-1.15,-0.31,-1.12,-0.29,-1.14,-0.27,-1.12,-0.31,-1.14,-0.29,-1.1],
  [0,-1.05,-0.3,-1.1,-0.28,-1.12,-0.3,-1.1,-0.26,-1.13,-0.3,-1.1,-0.28,-1.12,-0.26,-1.1,-0.3,-1.12,-0.28,-1.08]
];
const obc_fX = [
  [0,-0.15,-0.12,-0.16,-0.12,-0.16,-0.12,-0.16,-0.12,-0.16,-0.12,-0.16,-0.12,-0.16,-0.12,-0.16,-0.12,-0.16,-0.12,-0.16],
  [0,-0.04,-0.04,-0.04,-0.04,-0.04,-0.04,-0.04,-0.04,-0.04,-0.04,-0.04,-0.04,-0.04,-0.04,-0.04,-0.04,-0.04,-0.04,-0.04],
  [0,-0.08,-0.07,-0.08,-0.07,-0.08,-0.07,-0.08,-0.07,-0.08,-0.07,-0.08,-0.07,-0.08,-0.07,-0.08,-0.07,-0.08,-0.07,-0.08],
  [0,-0.07,-0.06,-0.07,-0.06,-0.07,-0.06,-0.07,-0.06,-0.07,-0.06,-0.07,-0.06,-0.07,-0.06,-0.07,-0.06,-0.07,-0.06,-0.07],
  [0,-0.03,-0.03,-0.03,-0.03,-0.03,-0.03,-0.03,-0.03,-0.03,-0.03,-0.03,-0.03,-0.03,-0.03,-0.03,-0.03,-0.03,-0.03,-0.03]
];
const errW_fX = [0,0.9,0.4,1.2,0.5,1.3,0.3,1.4,0.5,1.2,0.4,1.3,0.5,1.4,0.4,1.2,0.5,1.3,0.4,1.1];
const pbc_fZ = [
  [0,-0.34,-0.45,-0.33,-0.38,-0.35,-0.42,-0.35,-0.38,-0.33,-0.41,-0.35,-0.38,-0.33,-0.4,-0.35,-0.39,-0.35,-0.41,-0.36],
  [0,-0.32,-0.43,-0.31,-0.36,-0.33,-0.4,-0.33,-0.36,-0.31,-0.39,-0.33,-0.36,-0.31,-0.38,-0.33,-0.37,-0.33,-0.39,-0.34],
  [0,-0.32,-0.42,-0.3,-0.36,-0.32,-0.4,-0.32,-0.36,-0.3,-0.39,-0.32,-0.36,-0.3,-0.38,-0.32,-0.37,-0.32,-0.39,-0.34],
  [0,-0.31,-0.41,-0.29,-0.35,-0.31,-0.39,-0.31,-0.35,-0.29,-0.38,-0.31,-0.35,-0.29,-0.37,-0.31,-0.36,-0.31,-0.38,-0.33],
  [0,-0.3,-0.4,-0.28,-0.34,-0.3,-0.38,-0.3,-0.34,-0.28,-0.37,-0.3,-0.34,-0.28,-0.36,-0.3,-0.35,-0.3,-0.37,-0.32]
];
const obc_fZ = [
  [0,-0.08,-0.1,-0.09,-0.1,-0.09,-0.1,-0.09,-0.1,-0.09,-0.1,-0.09,-0.1,-0.09,-0.1,-0.09,-0.1,-0.09,-0.1,-0.09],
  [0,-0.03,-0.03,-0.03,-0.03,-0.03,-0.03,-0.03,-0.03,-0.03,-0.03,-0.03,-0.03,-0.03,-0.03,-0.03,-0.03,-0.03,-0.03,-0.03],
  [0,-0.05,-0.05,-0.05,-0.05,-0.05,-0.05,-0.05,-0.05,-0.05,-0.05,-0.05,-0.05,-0.05,-0.05,-0.05,-0.05,-0.05,-0.05,-0.05],
  [0,-0.05,-0.05,-0.05,-0.05,-0.05,-0.05,-0.05,-0.05,-0.05,-0.05,-0.05,-0.05,-0.05,-0.05,-0.05,-0.05,-0.05,-0.05,-0.05],
  [0,-0.02,-0.02,-0.02,-0.02,-0.02,-0.02,-0.02,-0.02,-0.02,-0.02,-0.02,-0.02,-0.02,-0.02,-0.02,-0.02,-0.02,-0.02,-0.02]
];
const errW_fZ = [0,1.0,1.4,1.6,0.9,1.5,1.2,1.6,1.1,1.5,1.0,1.6,1.1,1.5,1.2,1.6,1.1,1.5,1.0,1.4];

// barras de erro (por série)
const errP_w1 = [0.04, 0.04, 0.05, 0.06, 0.07];
const errO_w1 = [0.1, 0.12, 0.15, 0.25, 0.3];
const errP_w3 = [0.12, 0.15, 0.18, 0.25, 0.25];
const errO_w3 = [0.4, 0.45, 0.5, 0.6, 0.75];
const errO_w50 = [0.3, 0.45, 0.3, 0.3, 0.3];

// --- LAYOUT ---
const colLeft = [33, 163, 292, 453, 582, 712];
const rowTop = [27, 126, 227];
const rowH = [86, 86, 90];
const plotW = 118;
const yMinLeft = [-0.02, -0.02, -0.1], yMaxLeft = [6.02, 6.02, 6.1];
const yMinRight = [-5.9, -5.9, -6.05], yMaxRight = [0.02, 0.02, 0.05];

const darkColors = ['#1f77b4', '#ff7f0e', '#2ca02c', '#d62728', '#9467bd'];
const lightColors = ['rgba(31,119,180,0.42)', 'rgba(255,127,14,0.42)', 'rgba(44,160,44,0.42)', 'rgba(214,39,40,0.42)', 'rgba(148,103,189,0.42)'];

const panels = [
  { col: 0, row: 0, t: tDecay, pbc: pbc_aU, obc: obc_aU, errP: errP_w1, errO: errO_w1 },
  { col: 1, row: 0, t: tDecay, pbc: pbc_bU, obc: obc_bU, errP: errP_w3, errO: errO_w3 },
  { col: 2, row: 0, t: tW1, pbc: pbc_cU, obc: obc_cU, errW: errW_cU, errO: errO_w50 },
  { col: 3, row: 0, t: tDecay, pbc: pbc_dU, obc: obc_dU, errP: errP_w1, errO: errO_w1 },
  { col: 4, row: 0, t: tDecay, pbc: pbc_eU, obc: obc_eU, errP: errP_w3, errO: errO_w3 },
  { col: 5, row: 0, t: tW1, pbc: pbc_fU, obc: obc_fU, errW: errW_fU, errO: errO_w50 },
  { col: 0, row: 1, t: tDecay, pbc: pbc_aX, obc: obc_aX, errP: errP_w1, errO: errO_w1 },
  { col: 1, row: 1, t: tDecay, pbc: pbc_bX, obc: obc_bX, errP: errP_w3, errO: errO_w3 },
  { col: 2, row: 1, t: tW2, pbc: pbc_cX, obc: obc_cX, errW: errW_cX, errO: errO_w50 },
  { col: 3, row: 1, t: tDecay, pbc: pbc_dX, obc: obc_dX, errP: errP_w1, errO: errO_w1 },
  { col: 4, row: 1, t: tDecay, pbc: pbc_eX, obc: obc_eX, errP: errP_w3, errO: errO_w3 },
  { col: 5, row: 1, t: tW2, pbc: pbc_fX, obc: obc_fX, errW: errW_fX, errO: errO_w50 },
  { col: 0, row: 2, t: tDecay, pbc: pbc_aZ, obc: obc_aZ, errP: errP_w1, errO: errO_w1 },
  { col: 1, row: 2, t: tDecay, pbc: pbc_bZ, obc: obc_bZ, errP: errP_w3, errO: errO_w3 },
  { col: 2, row: 2, t: tW3, pbc: pbc_cZ, obc: obc_cZ, errW: errW_cZ, errO: errO_w50 },
  { col: 3, row: 2, t: tDecay, pbc: pbc_dZ, obc: obc_dZ, errP: errP_w1, errO: errO_w1 },
  { col: 4, row: 2, t: tDecay, pbc: pbc_eZ, obc: obc_eZ, errP: errP_w3, errO: errO_w3 },
  { col: 5, row: 2, t: tW3, pbc: pbc_fZ, obc: obc_fZ, errW: errW_fZ, errO: errO_w50 }
];

// --- PLUGINS ---
const errorBars = {
  id: 'errorBars',
  afterDatasetDraw(chart, args) {
    const ds = chart.data.datasets[args.index];
    if (ds.err == null) return;
    const ctx = chart.ctx, ys = chart.scales.y, a = chart.chartArea;
    ctx.save();
    ctx.beginPath();
    ctx.rect(a.left, a.top, a.right - a.left, a.bottom - a.top);
    ctx.clip();
    ctx.strokeStyle = ds.borderColor;
    ctx.lineWidth = 1;
    args.meta.data.forEach((pt, i) => {
      if (i === 0) return;
      const e = Array.isArray(ds.err) ? ds.err[i] : ds.err;
      if (!e) return;
      const v = ds.data[i].y;
      const y1 = ys.getPixelForValue(v - e), y2 = ys.getPixelForValue(v + e);
      const x = Math.round(pt.x) + 0.5;
      ctx.beginPath();
      ctx.moveTo(x, y1); ctx.lineTo(x, y2);
      ctx.moveTo(x - 1.5, y1); ctx.lineTo(x + 1.5, y1);
      ctx.moveTo(x - 1.5, y2); ctx.lineTo(x + 1.5, y2);
      ctx.stroke();
    });
    ctx.restore();
  }
};

const frame = {
  id: 'frame',
  afterDraw(chart) {
    const { ctx, chartArea: a } = chart;
    ctx.save();
    ctx.strokeStyle = '#000';
    ctx.lineWidth = 1;
    ctx.strokeRect(a.left - 0.5, a.top - 0.5, a.right - a.left + 1, a.bottom - a.top + 1);
    ctx.restore();
  }
};

// --- GRÁFICOS ---
const tickFont = { family: 'Liberation Serif', size: 14 };

panels.forEach(p => {
  const right = p.col >= 3;
  const showY = p.col === 0 || p.col === 3;
  const showX = p.row === 2;
  const h = rowH[p.row];

  const canvas = document.createElement('canvas');
  canvas.width = plotW + 40;
  canvas.height = h + 32;
  canvas.style.left = (colLeft[p.col] - 32) + 'px';
  canvas.style.top = (rowTop[p.row] - 8) + 'px';
  document.body.appendChild(canvas);

  // índice 0 é desenhado por último: PBC s=5 fica por cima
  const datasets = [];
  for (let s = 4; s >= 0; s--) {
    datasets.push({
      data: p.t.map((x, i) => ({ x, y: p.pbc[s][i] })),
      borderColor: darkColors[s], borderWidth: 1.6,
      err: p.errW ? p.errW : p.errP[s]
    });
  }
  for (let s = 4; s >= 0; s--) {
    datasets.push({
      data: p.t.map((x, i) => ({ x, y: p.obc[s][i] })),
      borderColor: lightColors[s], borderWidth: 1.6,
      err: p.errO[s]
    });
  }

  const yTicks = right ? yTicksRight : yTicksLeft;

  new Chart(canvas, {
    type: 'line',
    data: { datasets },
    options: {
      responsive: false,
      animation: false,
      events: [],
      layout: { padding: { top: 8, right: 8, left: 0, bottom: 0 } },
      elements: { point: { radius: 0 }, line: { cubicInterpolationMode: 'monotone' } },
      plugins: { legend: { display: false }, tooltip: { enabled: false } },
      scales: {
        x: {
          type: 'linear', min: 0, max: 12.5,
          afterFit: s => { s.height = 24; },
          afterBuildTicks: s => { s.ticks = xTicks.map(v => ({ value: v })); },
          border: { display: false },
          grid: { drawOnChartArea: false, tickLength: 3.5, color: '#000', tickWidth: 0.8 },
          ticks: { autoSkip: false, maxRotation: 0, padding: 2, color: '#000', font: tickFont,
            callback: v => (showX && xLabels.includes(v)) ? String(v) : '' }
        },
        y: {
          type: 'linear',
          min: right ? yMinRight[p.row] : yMinLeft[p.row],
          max: right ? yMaxRight[p.row] : yMaxLeft[p.row],
          afterFit: s => { s.width = 32; },
          afterBuildTicks: s => { s.ticks = yTicks.map(v => ({ value: v })); },
          border: { display: false },
          grid: { drawOnChartArea: false, tickLength: 3.5, color: '#000', tickWidth: 0.8 },
          ticks: { autoSkip: false, padding: right ? 6 : 1, color: '#000', font: tickFont,
            callback: v => (showY && yLabels.includes(v)) ? (v < 0 ? '\u2212' + Math.abs(v) : String(v)) : '' }
        }
      }
    },
    plugins: [errorBars, frame]
  });
});

// --- TEXTOS ---
function addText(cls, html, left, top) {
  const d = document.createElement('div');
  d.className = 'txt ' + cls;
  d.innerHTML = html;
  d.style.left = left + 'px';
  d.style.top = top + 'px';
  document.body.appendChild(d);
  return d;
}

colLeft.forEach((x, c) => {
  addText('tag', panelTags[c], x + 1, 6);
  addText('ttl', '<i>w</i> = ' + wValues[c], x + plotW / 2, 2);
  addText('xlab', '<i>tJ</i>', x + plotW / 2, 341);
});

const sx = '<span class="ss"><span>(1)</span><span><i>x</i></span></span>';
const sz = '<span class="ss"><span>(1)</span><span><i>z</i></span></span>';
const args = ['(<i>U</i>)', '(<i>σ</i>' + sx + ')', '(<i>σ</i>' + sz + ')'];
rowTop.forEach((y, r) => {
  const cy = y + rowH[r] / 2;
  addText('ylab', '<i>I</i><sub><i>AB</i></sub>' + args[r], 15, cy);
  addText('ylab', '<i>I</i><sub><i>ABB</i></sub>' + args[r], 424, cy);
});

// --- LEGENDA ---
const legend = document.createElement('div');
legend.id = 'legend';
document.body.appendChild(legend);
addText('lgt', 'PBC', 764, 239);
addText('lgt', 'OBC', 785, 239);
seriesNames.forEach((name, i) => {
  const y = 257.5 + i * 12.25;
  const a = document.createElement('div');
  a.className = 'lg';
  a.style.cssText = `left:764px;top:${y - 1}px;width:17px;background:${darkColors[i]}`;
  document.body.appendChild(a);
  const b = document.createElement('div');
  b.className = 'lg';
  b.style.cssText = `left:785px;top:${y - 1}px;width:17px;background:${lightColors[i]}`;
  document.body.appendChild(b);
  const parts = name.split(' = ');
  addText('lgs', '<i>' + parts[0] + '</i> = ' + parts[1], 808, y - 4.5);
});
</script>
</body>
</html>
